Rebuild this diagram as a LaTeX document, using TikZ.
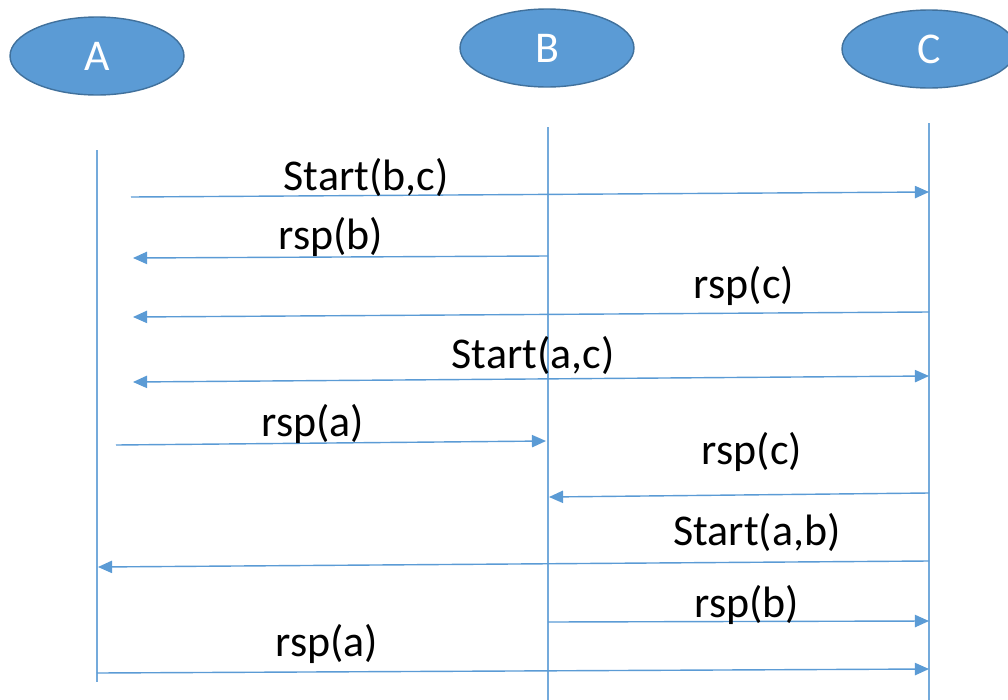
\documentclass[tikz,border=0pt]{standalone}
\usepackage{fontspec}
\setmainfont{Carlito}
\usetikzlibrary{shapes.geometric,arrows.meta}
\definecolor{msgblue}{HTML}{5B9BD5}
\definecolor{rimblue}{HTML}{41719C}

\begin{document}
\begin{tikzpicture}[x=0.02cm,y=-0.02cm,
  actor/.style={ellipse,fill=msgblue,draw=rimblue,line width=0.8pt,
    minimum width=3.48cm,minimum height=1.56cm,inner sep=0pt,
    text=white,font=\fontsize{25}{25}\selectfont},
  life/.style={draw=msgblue!85,line width=0.8pt},
  msg/.style={draw=msgblue,line width=0.8pt,-{Triangle[length=8pt,width=7pt]}},
  both/.style={{Triangle[length=8pt,width=7pt]}-{Triangle[length=8pt,width=7pt]}},
  lbl/.style={inner sep=0pt,font=\fontsize{25}{25}\selectfont}]

\useasboundingbox (0,0) rectangle (1008,700);

\node[actor] (A) at (97,56) {A};
\node[actor] (B) at (547,48) {B};
\node[actor] (C) at (929,49) {C};

\coordinate (Atop) at (97,150);  \coordinate (Abot) at (97,682);
\coordinate (Btop) at (548,127); \coordinate (Bbot) at (548,700);
\coordinate (Ctop) at (929,123); \coordinate (Cbot) at (929,700);
\draw[life] (Atop) -- (Abot);
\draw[life] (Btop) -- (Bbot);
\draw[life] (Ctop) -- (Cbot);

\coordinate (s1) at (131,197); \coordinate (e1) at (929,192);
\coordinate (s2) at (548,256); \coordinate (e2) at (133,258);
\coordinate (s3) at (929,312); \coordinate (e3) at (133,317);
\coordinate (s4) at (133,382); \coordinate (e4) at (929,376);
\coordinate (s5) at (116,445); \coordinate (e5) at (546,441);
\coordinate (s6) at (929,493); \coordinate (e6) at (549,497);
\coordinate (s7) at (929,561); \coordinate (e7) at (98,567);
\coordinate (s8) at (548,622); \coordinate (e8) at (929,621);
\coordinate (s9) at (97,673);  \coordinate (e9) at (929,669);

\draw[msg] (s1) -- (e1);
\draw[msg] (s2) -- (e2);
\draw[msg] (s3) -- (e3);
\draw[msg,both] (s4) -- (e4);
\draw[msg] (s5) -- (e5);
\draw[msg] (s6) -- (e6);
\draw[msg] (s7) -- (e7);
\draw[msg] (s8) -- (e8);
\draw[msg] (s9) -- (e9);

\node[lbl] (l1) at (366,177) {Start(b,c)};
\node[lbl] (l2) at (331,237) {rsp(b)};
\node[lbl] (l3) at (744,286) {rsp(c)};
\node[lbl] (l4) at (533,355) {Start(a,c)};
\node[lbl] (l5) at (313,424) {rsp(a)};
\node[lbl] (l6) at (752,452) {rsp(c)};
\node[lbl] (l7) at (757,532) {Start(a,b)};
\node[lbl] (l8) at (747,605) {rsp(b)};
\node[lbl] (l9) at (327,644) {rsp(a)};
\end{tikzpicture}
\end{document}
